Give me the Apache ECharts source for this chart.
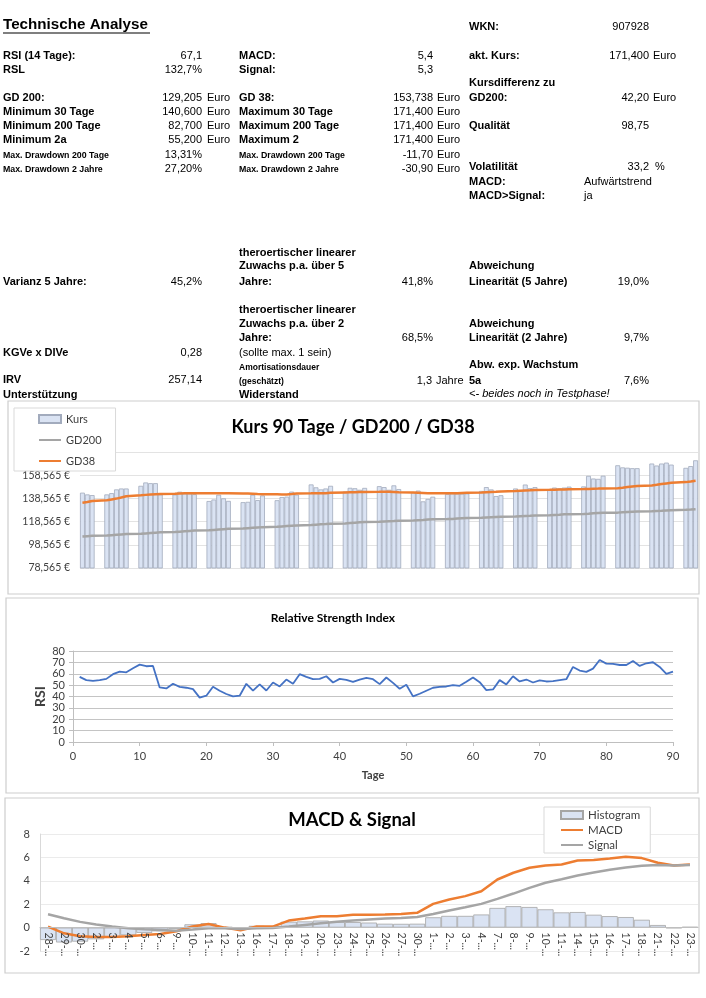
<!DOCTYPE html>
<html><head><meta charset="utf-8">
<script src="https://cdn.jsdelivr.net/npm/echarts@6/dist/echarts.min.js"></script>
<style>html,body{margin:0;padding:0;background:#fff;}#c{width:706px;height:998px;}</style>
</head><body><div id="c"></div>
<script>
// ---------- DATA ----------
// trading days per calendar week (weekends are empty slots on the date axis)
const weekLengths = [3,5,5,5,5,5,5,5,5,5,5,5,5,5,5,5,5,5,3];
const kurs = [
 143500,142000,141400,
 142000,143100,146300,147100,147100,
 149400,152300,151700,151700,142000,
 141900,144300,142800,142800,142200,
 136300,137600,141700,138600,136400,
 135300,135600,141700,137100,141100,
 137000,139700,140100,144400,141800,
 150600,148100,146300,147100,149400,
 144500,147700,147300,146000,147600,
 149100,148300,146000,149800,146600,
 143800,145300,136000,138100,140000,
 142400,142900,142700,142600,142800,
 145000,148300,146300,140600,141300,
 147100,145700,150500,147400,148300,
 146600,147900,147300,147900,148700,
 148900,158000,155700,155400,158100,
 167100,165300,165000,164600,164600,
 168600,166900,168600,169400,167700,
 164900,166400,171400];
const gd200 = [
 105700,106000,106300,
 106600,106900,107200,107500,107800,
 108100,108400,108700,109000,109300,
 109600,109900,110200,110500,110800,
 111100,111400,111700,112000,112300,
 112600,112900,113200,113500,113800,
 114100,114400,114700,115000,115300,
 115600,115900,116200,116400,116700,
 117000,117300,117600,117900,118200,
 118400,118700,118900,119100,119400,
 119600,119800,120000,120300,120500,
 120700,120900,121200,121400,121600,
 121800,122100,122300,122500,122700,
 123000,123200,123400,123600,123900,
 124100,124300,124500,124800,125000,
 125200,125400,125700,125900,126100,
 126300,126600,126800,127000,127200,
 127500,127700,127900,128200,128400,
 128700,128900,129205];
const gd38 = [
 134900,135500,136300,
 137000,137700,138400,139400,140400,
 141200,141600,142000,142200,142400,
 142600,142800,142900,143000,143000,
 143000,142900,142900,142900,142900,
 142800,142700,142500,142300,142200,
 142100,142000,142000,142300,142700,
 142900,143000,142900,143000,143400,
 143700,143800,143900,144000,144100,
 144200,144300,144200,144000,143800,
 143600,143400,143200,143000,142900,
 142900,143000,143100,143300,143500,
 143700,143900,144100,144300,144600,
 144900,145100,145300,145500,145800,
 146000,146100,146200,146300,146500,
 146600,146700,146900,147000,147200,
 147400,147800,148300,148800,149200,
 149700,150300,151000,151500,152000,
 152600,153100,153738];
const kursTicks = {min:78565, max:178565, step:20000};

const rsi = [57.3,54.4,53.8,54.4,55.5,59.6,61.9,61.3,64.8,68.0,
 66.6,66.9,48.0,47.1,51.2,48.5,47.7,46.5,39.0,40.7,
 48.5,45.1,42.2,40.1,40.7,51.2,45.1,50.6,45.3,52.3,
 48.8,54.9,51.2,59.6,57.3,55.2,55.5,57.8,52.3,55.5,
 54.7,52.8,54.9,56.4,55.2,50.9,56.7,52.0,46.8,50.3,
 40.1,42.4,45.1,47.7,48.5,48.8,50.0,49.4,52.9,56.7,
 52.6,45.6,46.2,54.4,50.6,57.8,53.2,54.9,52.3,54.1,
 53.2,53.5,54.4,55.2,66.0,62.8,61.6,64.5,72.1,68.9,
 68.6,67.7,67.7,71.2,66.9,69.2,70.1,66.0,59.9,61.9];

const macdDates = ['28-...','29-...','30-...','2-...','3-...','4-...','5-...','6-...','9-...','10-...',
 '11-...','12-...','13-...','16-...','17-...','18-...','19-...','20-...','23-...','24-...',
 '25-...','26-...','27-...','30-...','1-...','2-...','3-...','4-...','7-...','8-...',
 '9-...','10-...','11-...','14-...','15-...','16-...','17-...','18-...','21-...','22-...','23-...'];
const histogram = [-1.06,-1.27,-1.2,-1.0,-0.85,-0.65,-0.45,-0.32,-0.1,0.28,
 0.38,0.05,-0.13,0.15,0.13,0.5,0.53,0.6,0.48,0.47,
 0.43,0.33,0.32,0.33,0.88,1.0,1.0,1.12,1.68,1.83,
 1.76,1.56,1.3,1.33,1.1,0.98,0.9,0.67,0.22,-0.04,0.06];
const macd = [0.09,-0.49,-0.74,-0.8,-0.8,-0.74,-0.63,-0.54,-0.31,0.09,
 0.31,0.0,-0.23,0.09,0.09,0.6,0.77,0.97,0.97,1.09,
 1.09,1.11,1.17,1.26,2.03,2.4,2.69,3.11,4.11,4.69,
 5.11,5.31,5.4,5.74,5.77,5.91,6.06,5.94,5.54,5.31,5.4];
const signal = [1.14,0.8,0.49,0.26,0.09,-0.06,-0.14,-0.2,-0.26,-0.17,
 -0.06,-0.06,-0.11,-0.06,-0.03,0.09,0.23,0.37,0.49,0.6,
 0.69,0.77,0.83,0.91,1.17,1.46,1.74,2.03,2.46,2.91,
 3.4,3.83,4.14,4.46,4.71,4.94,5.14,5.29,5.34,5.31,5.35];
const macdRange = {min:-2, max:8, step:2};

// ---------- BUILD ----------
function padWeeks(arr){
  const out=[]; let i=0;
  weekLengths.forEach((n,w)=>{ if(w>0){out.push(null,null);} for(let k=0;k<n;k++) out.push(arr[i++]); });
  return out;
}
const kursSlots = padWeeks(kurs);
const slotCats = kursSlots.map((_,i)=>String(i+1));
const rsiData = rsi.map((v,i)=>[i+1,v]);

const CF = 'Lato, "Liberation Sans", sans-serif';
const AF = '"Liberation Sans", Arial, sans-serif';

// table texts
const G = [];
function L(x,y,t,s){ G.push({type:'text',x:x,y:y,z:10,style:{text:t,fill:'#000',font:'bold '+(s||11)+'px '+AF,align:'left',verticalAlign:'middle'}}); }
function V(x,y,t){ G.push({type:'text',x:x,y:y,z:10,style:{text:t,fill:'#000',font:'11px '+AF,align:'right',verticalAlign:'middle'}}); }
function N(x,y,t,it){ G.push({type:'text',x:x,y:y,z:10,style:{text:t,fill:'#000',font:(it?'italic ':'')+'11px '+AF,align:'left',verticalAlign:'middle'}}); }

L(3,25.3,'Technische Analyse',15.2);
G.push({type:'line',z:10,shape:{x1:3,y1:33,x2:150,y2:33},style:{stroke:'#000',lineWidth:1.2}});
L(469,27,'WKN:'); V(649,27,'907928');
L(3,56.3,'RSI (14 Tage):'); V(202,56.3,'67,1'); L(239,56.3,'MACD:'); V(433,56.3,'5,4'); L(469,56.3,'akt. Kurs:'); V(649,56.3,'171,400'); N(653,56.3,'Euro');
L(3,69.7,'RSL'); V(202,69.7,'132,7%'); L(239,69.7,'Signal:'); V(433,69.7,'5,3');
L(469,83,'Kursdifferenz zu');
L(3,98,'GD 200:'); V(202,98,'129,205'); N(207,98,'Euro'); L(239,98,'GD 38:'); V(433,98,'153,738'); N(437,98,'Euro'); L(469,98,'GD200:'); V(649,98,'42,20'); N(653,98,'Euro');
L(3,112,'Minimum 30 Tage'); V(202,112,'140,600'); N(207,112,'Euro'); L(239,112,'Maximum 30 Tage'); V(433,112,'171,400'); N(437,112,'Euro');
L(3,126,'Minimum 200 Tage'); V(202,126,'82,700'); N(207,126,'Euro'); L(239,126,'Maximum 200 Tage'); V(433,126,'171,400'); N(437,126,'Euro'); L(469,126,'Qualität'); V(649,126,'98,75');
L(3,140,'Minimum 2a'); V(202,140,'55,200'); N(207,140,'Euro'); L(239,140,'Maximum 2'); V(433,140,'171,400'); N(437,140,'Euro');
L(3,155.3,'Max. Drawdown 200 Tage',8.8); V(202,155.3,'13,31%'); L(239,155.3,'Max. Drawdown 200 Tage',8.8); V(433,155.3,'-11,70'); N(437,155.3,'Euro');
L(3,169.3,'Max. Drawdown 2 Jahre',8.8); V(202,169.3,'27,20%'); L(239,169.3,'Max. Drawdown 2 Jahre',8.8); V(433,169.3,'-30,90'); N(437,169.3,'Euro');
L(469,167.3,'Volatilität'); V(649,167.3,'33,2'); N(655,167.3,'%');
L(469,182.3,'MACD:'); N(584,182.3,'Aufwärtstrend');
L(469,196.3,'MACD>Signal:'); N(584,196.3,'ja');
L(239,253,'theroertischer linearer');
L(239,266.3,'Zuwachs p.a. über 5'); L(469,266.3,'Abweichung');
L(3,282,'Varianz 5 Jahre:'); V(202,282,'45,2%'); L(239,282,'Jahre:'); V(433,282,'41,8%'); L(469,282,'Linearität (5 Jahre)'); V(649,282,'19,0%');
L(239,309.7,'theroertischer linearer');
L(239,323.7,'Zuwachs p.a. über 2'); L(469,323.7,'Abweichung');
L(239,338,'Jahre:'); V(433,338,'68,5%'); L(469,338,'Linearität (2 Jahre)'); V(649,338,'9,7%');
L(3,353,'KGVe x DIVe'); V(202,353,'0,28'); N(239,353,'(sollte max. 1 sein)');
L(239,367.7,'Amortisationsdauer',8.5); L(469,365,'Abw. exp. Wachstum');
L(3,380.3,'IRV'); V(202,380.3,'257,14'); L(239,382,'(geschätzt)',8.5); V(432,381.3,'1,3'); N(436,381.3,'Jahre'); L(469,381.3,'5a'); V(649,381.3,'7,6%');
L(3,394.7,'Unterstützung'); L(239,394.7,'Widerstand'); N(469,394,'<- beides noch in Testphase!',true);

// chart frames
[[8,401,691,193],[6,598,692,195],[5,798,694,175]].forEach(r=>{
  G.push({type:'rect',z:-1,shape:{x:r[0],y:r[1],width:r[2],height:r[3]},style:{fill:'#fff',stroke:'#cdcdcd',lineWidth:1.2}});
});

// MACD grid geometry (axis line placed at value 0)
const mg = {left:40, top:834, width:658, height:117};
const zeroOffset = -mg.height * (0 - macdRange.min) / (macdRange.max - macdRange.min);

const noSym = {opacity:0};
const chart = echarts.init(document.getElementById('c'), null, {renderer:'canvas'});
const lab = {fontFamily:CF, color:'#404040'};
chart.setOption({
  animation:false,
  backgroundColor:'#fff',
  graphic:G,
  title:[
    {text:'Kurs 90 Tage / GD200 / GD38', left:353, top:418, textAlign:'center', padding:0, textStyle:{fontFamily:CF,fontWeight:'bold',fontSize:18,color:'#000'}},
    {text:'Relative Strength Index', left:333, top:612, textAlign:'center', padding:0, textStyle:{fontFamily:CF,fontWeight:'bold',fontSize:12,color:'#000'}},
    {text:'MACD & Signal', left:352, top:811, textAlign:'center', padding:0, textStyle:{fontFamily:CF,fontWeight:'bold',fontSize:18.5,color:'#000'}}
  ],
  legend:[
    {left:14, top:408, orient:'vertical', backgroundColor:'#fff', borderColor:'#d9d9d9', borderWidth:1,
     padding:[4,14,3,24], itemGap:7, itemWidth:22, itemHeight:8, z:20,
     textStyle:{fontFamily:CF,fontSize:11,color:'#404040',lineHeight:14},
     data:[{name:'Kurs',icon:'rect'},{name:'GD200',itemStyle:noSym},{name:'GD38',itemStyle:noSym}]},
    {left:544, top:807, orient:'vertical', backgroundColor:'#fff', borderColor:'#d9d9d9', borderWidth:1,
     padding:[2,10,2,16], itemGap:3, itemWidth:22, itemHeight:8, z:20,
     textStyle:{fontFamily:CF,fontSize:11.5,color:'#404040',lineHeight:12},
     data:[{name:'Histogram',icon:'rect'},{name:'MACD',itemStyle:noSym},{name:'Signal',itemStyle:noSym}]}
  ],
  grid:[
    {left:80, top:452, width:618, height:116},
    {left:73, top:651, width:600, height:91},
    mg
  ],
  xAxis:[
    {type:'category', gridIndex:0, data:slotCats, axisLine:{show:false}, axisTick:{show:false}, axisLabel:{show:false}, splitLine:{show:false}},
    {type:'value', gridIndex:1, min:0, max:90, interval:10,
     axisLine:{show:true,lineStyle:{color:'#bfbfbf'}}, axisTick:{show:true,length:4,lineStyle:{color:'#bfbfbf'}},
     splitLine:{show:false}, axisLabel:Object.assign({fontSize:11,margin:9},lab),
     name:'Tage', nameLocation:'middle', nameGap:28, nameTextStyle:{fontFamily:CF,fontWeight:'bold',fontSize:11,color:'#404040'}},
    {type:'category', gridIndex:2, data:macdDates, position:'bottom', offset:zeroOffset, z:5,
     axisLine:{onZero:false,lineStyle:{color:'#bfbfbf'}}, axisTick:{show:false},
     axisLabel:Object.assign({rotate:-90,interval:0,fontSize:10.5,margin:5},lab), splitLine:{show:false}}
  ],
  yAxis:[
    {type:'value', gridIndex:0, min:kursTicks.min, max:kursTicks.max, interval:kursTicks.step,
     axisLine:{show:false}, axisTick:{show:false},
     axisLabel:Object.assign({fontSize:10.5,margin:10,showMaxLabel:false,formatter:v=>Math.round(v).toLocaleString('en-US')+' €'},lab),
     splitLine:{lineStyle:{color:'#e3e3e3'}}},
    {type:'value', gridIndex:1, min:0, max:80, interval:10,
     axisLine:{show:true,lineStyle:{color:'#bfbfbf'}}, axisTick:{show:true,length:4,lineStyle:{color:'#bfbfbf'}},
     axisLabel:Object.assign({fontSize:11,margin:8},lab), splitLine:{lineStyle:{color:'#c4c4c4'}},
     name:'RSI', nameLocation:'middle', nameGap:26, nameRotate:90, nameMoveOverlap:false,
     nameTextStyle:{fontFamily:CF,fontWeight:'bold',fontSize:14,color:'#404040'}},
    {type:'value', gridIndex:2, min:macdRange.min, max:macdRange.max, interval:macdRange.step,
     axisLine:{show:true,lineStyle:{color:'#d9d9d9'}}, axisTick:{show:false},
     axisLabel:Object.assign({fontSize:11,margin:10},lab), splitLine:{lineStyle:{color:'#ebebeb'}}}
  ],
  series:[
    {name:'Kurs', type:'bar', xAxisIndex:0, yAxisIndex:0, data:kursSlots, barCategoryGap:'0%', clip:true,
     itemStyle:{color:'#dae3f3', borderColor:'#a2abbd', borderWidth:0.8}},
    {name:'GD200', type:'line', xAxisIndex:0, yAxisIndex:0, data:padWeeks(gd200), connectNulls:true, symbol:'none',
     lineStyle:{color:'#a5a5a5', width:2.5}, itemStyle:{color:'#a5a5a5'}},
    {name:'GD38', type:'line', xAxisIndex:0, yAxisIndex:0, data:padWeeks(gd38), connectNulls:true, symbol:'none',
     lineStyle:{color:'#ed7d31', width:2.5}, itemStyle:{color:'#ed7d31'}},
    {name:'RSI', type:'line', xAxisIndex:1, yAxisIndex:1, data:rsiData, symbol:'none',
     lineStyle:{color:'#4472c4', width:1.8}, itemStyle:{color:'#4472c4'}},
    {name:'Histogram', type:'bar', xAxisIndex:2, yAxisIndex:2, data:histogram, barCategoryGap:'0%', z:1,
     itemStyle:{color:'#dae3f3', borderColor:'#a5a5a5', borderWidth:0.8}},
    {name:'MACD', type:'line', xAxisIndex:2, yAxisIndex:2, data:macd, symbol:'none',
     lineStyle:{color:'#ed7d31', width:2.5}, itemStyle:{color:'#ed7d31'}},
    {name:'Signal', type:'line', xAxisIndex:2, yAxisIndex:2, data:signal, symbol:'none',
     lineStyle:{color:'#a5a5a5', width:2.5}, itemStyle:{color:'#a5a5a5'}}
  ]
});
</script></body></html>
